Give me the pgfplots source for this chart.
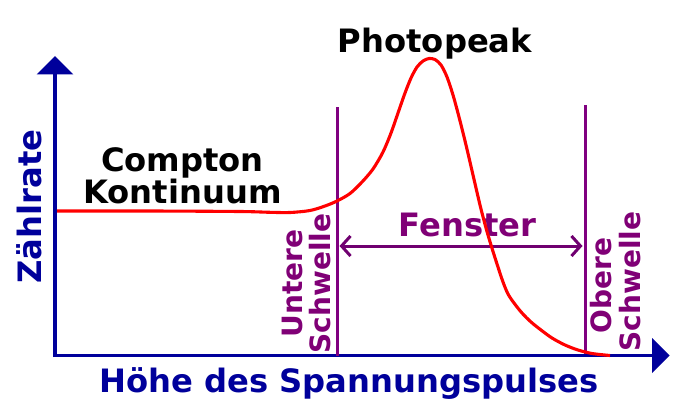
\documentclass[border=0pt]{standalone}
\usepackage{fontspec}
\setmainfont{DejaVu Sans}
\usepackage{pgfplots}
\pgfplotsset{compat=1.18}
\usetikzlibrary{arrows.meta}
\definecolor{axblue}{RGB}{0,0,155}
\definecolor{lpurple}{RGB}{128,0,128}
\definecolor{tpurple}{RGB}{128,0,118}
\definecolor{apurple}{RGB}{112,0,112}
\tikzset{big/.style={inner sep=0pt, font=\bfseries\fontsize{32.2bp}{32bp}\selectfont},
         small/.style={inner sep=0pt, font=\bfseries\fontsize{28bp}{28bp}\selectfont}}
\begin{document}
\begin{tikzpicture}
\begin{axis}[
  scale only axis, width=688bp, height=410bp,
  xmin=0, xmax=688, ymin=0, ymax=410, y dir=reverse,
  hide axis, clip=false,
]
\path (rel axis cs:0,0) rectangle (rel axis cs:1,1);
% axes
\addplot[axblue, line width=3.4bp] coordinates {(55,357)(55,70)};
\addplot[axblue, line width=3.4bp] coordinates {(53.3,355.5)(655,355.5)};
\addplot[fill=axblue, draw=none] coordinates {(36.7,74.3)(55,56)(73.3,74.3)};
\addplot[fill=axblue, draw=none] coordinates {(652,338)(669.5,355.5)(652,373)};
% thresholds
\addplot[lpurple, line width=3bp] coordinates {(337,107)(337,356)};
\addplot[lpurple, line width=3bp] coordinates {(585,105)(585,354)};
\addplot[apurple, line width=3bp, {Straight Barb[length=9bp,width=20bp,line width=3bp]}-{Straight Barb[length=9bp,width=20bp,line width=3bp]}] coordinates {(339.5,246)(582.5,246)};
% texts
\node[big, anchor=base] at (axis cs:435,52.3) {Photopeak};
\node[big, anchor=base] at (axis cs:182.5,171.7) {Compton};
\node[big, anchor=base] at (axis cs:182.5,203.3) {Kontinuum};
\node[big, anchor=base, text=axblue] at (axis cs:349,392.7) {Höhe des Spannungspulses};
\node[big, anchor=base, text=axblue, rotate=90] at (axis cs:41,206.7) {Zählrate};
\node[big, anchor=base, text=tpurple] at (axis cs:467.5,236) {Fenster};
\node[small, anchor=base, text=tpurple, rotate=90] at (axis cs:302.7,283.3) {Untere};
\node[small, anchor=base, text=tpurple, rotate=90] at (axis cs:330,283.3) {Schwelle};
\node[small, anchor=base, text=tpurple, rotate=90] at (axis cs:611.7,285.8) {Obere};
\node[small, anchor=base, text=tpurple, rotate=90] at (axis cs:640,281.5) {Schwelle};
% spectrum
\addplot[red, line width=3.1bp, smooth, tension=0.5] coordinates {
(57,211)(150,211)(240,211.5)(270,212.3)(290,212.5)(310,210.5)(325,206)(337,201)
(350,193.5)(362,182)(373,169)(383,152)(391,133)(398,113)(405,93)(411,78)(417,67)
(423,61)(429,58.5)(435,59.5)(441,65)(447,77)(453,95)(459,117)(466,145)(473,175)
(480,205)(486,228)(491,245)(497,264)(503,282)(508,294)(514,303)(522,313)(531,322)
(541,330)(552,338)(565,345)(578,350)(592,353.5)(610,355.5)};
\end{axis}
\end{tikzpicture}
\end{document}
